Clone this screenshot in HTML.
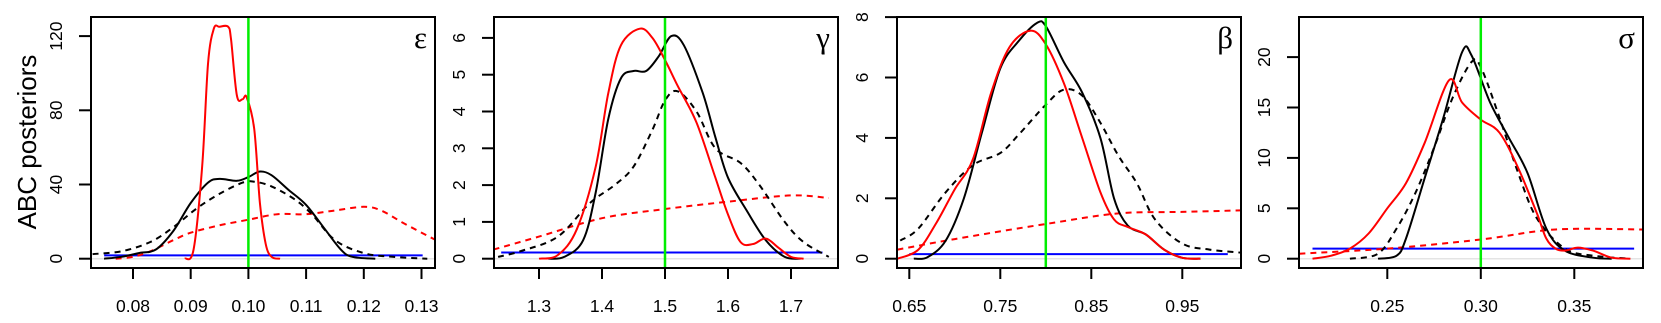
<!DOCTYPE html>
<html><head><meta charset="utf-8"><style>html,body{margin:0;padding:0;background:#fff}svg{display:block}</style></head>
<body>
<svg id="s" width="1661" height="323" xmlns="http://www.w3.org/2000/svg" font-family="Liberation Sans, sans-serif">
<text transform="translate(36,142) rotate(-90)" text-anchor="middle" font-size="26">ABC posteriors</text>
</svg>
<script>
var S=document.getElementById('s'),NS='http://www.w3.org/2000/svg';
function el(t,a,txt){var e=document.createElementNS(NS,t);for(var k in a)e.setAttribute(k,a[k]);if(txt!=null)e.textContent=txt;S.appendChild(e);return e;}
var P=[
{L:91,R:435,x0:0.08,px0:133,sx:5770,sy:74.2/40,yt:[0,40,80,120],xt:[0.08,0.09,0.10,0.11,0.12,0.13],xf:2,g:0.10,sym:'ε',
 blue:[0.075,0.1302,1.8],
 rs:[[0.089,0],[0.0905,5],[0.092,50],[0.093,105],[0.094,124],[0.095,125],[0.0965,125],[0.097,118],[0.098,88],[0.099,86],[0.0997,87],[0.101,70],[0.102,30],[0.103,8],[0.104,1],[0.1055,0]],
 bs:[[0.075,0],[0.078,1],[0.081,3],[0.084,5],[0.087,15],[0.09,30],[0.093,41],[0.095,43],[0.098,42],[0.1,44],[0.102,47],[0.104,45],[0.107,37],[0.11,29],[0.113,17],[0.116,5],[0.118,1],[0.122,0]],
 bd:[[0.073,2.5],[0.078,4],[0.083,9],[0.087,17],[0.091,27],[0.095,35],[0.099,41],[0.101,41.5],[0.104,39],[0.108,32],[0.111,24],[0.115,10],[0.12,3],[0.125,1],[0.131,0]],
 rd:[[0.077,0],[0.08,1],[0.083,4],[0.087,10],[0.09,14],[0.095,18],[0.1,21],[0.105,24],[0.11,24],[0.115,26],[0.12,28],[0.123,26],[0.127,19],[0.1325,10]]},
{L:494,R:838,x0:1.3,px0:539,sx:630,sy:36.8,yt:[0,1,2,3,4,5,6],xt:[1.3,1.4,1.5,1.6,1.7],xf:1,g:1.5,sym:'γ',
 blue:[1.24,1.75,0.17],
 rs:[[1.30,0],[1.33,0.1],[1.36,0.8],[1.39,2.5],[1.41,4.5],[1.43,5.8],[1.46,6.25],[1.48,6.0],[1.5,5.4],[1.52,4.7],[1.55,3.7],[1.58,2.2],[1.6,1.2],[1.62,0.45],[1.64,0.4],[1.66,0.55],[1.68,0.3],[1.7,0.05],[1.72,0]],
 bs:[[1.315,0],[1.34,0.05],[1.37,0.5],[1.39,1.8],[1.41,3.8],[1.43,4.9],[1.45,5.1],[1.47,5.1],[1.49,5.5],[1.51,6.05],[1.53,5.8],[1.56,4.5],[1.58,3.3],[1.6,2.2],[1.63,1.3],[1.66,0.5],[1.69,0.05],[1.715,0]],
 bd:[[1.235,0.05],[1.27,0.2],[1.33,0.6],[1.38,1.5],[1.42,2.0],[1.45,2.5],[1.48,3.5],[1.5,4.3],[1.52,4.55],[1.55,4.0],[1.58,3.0],[1.62,2.6],[1.65,2.0],[1.69,1.0],[1.72,0.45],[1.76,0.05]],
 rd:[[1.228,0.25],[1.3,0.6],[1.4,1.1],[1.5,1.35],[1.6,1.55],[1.7,1.72],[1.76,1.65]]},
{L:897,R:1241,x0:0.65,px0:909.3,sx:910,sy:30.2,yt:[0,2,4,6,8],xt:[0.65,0.75,0.85,0.95],xf:2,g:0.8,sym:'β',
 blue:[0.65,1.0,0.15],
 rs:[[0.637,0],[0.66,0.3],[0.68,1.2],[0.7,2.3],[0.72,3.3],[0.74,5.5],[0.76,7.0],[0.783,7.55],[0.8,7.1],[0.82,5.8],[0.84,4.0],[0.86,2.2],[0.875,1.3],[0.89,1.05],[0.91,0.8],[0.93,0.3],[0.95,0.03],[0.97,0]],
 bs:[[0.655,0],[0.67,0.05],[0.69,0.6],[0.71,2.0],[0.73,4.2],[0.75,6.3],[0.77,7.2],[0.79,7.8],[0.8,7.7],[0.82,6.5],[0.84,5.5],[0.86,4.0],[0.875,2.0],[0.89,1.1],[0.91,0.8],[0.93,0.3],[0.95,0.03],[0.97,0]],
 bd:[[0.64,0.6],[0.66,1.0],[0.69,2.2],[0.72,3.1],[0.75,3.5],[0.77,4.1],[0.8,5.1],[0.82,5.6],[0.84,5.4],[0.86,4.5],[0.88,3.4],[0.9,2.5],[0.92,1.3],[0.95,0.5],[0.98,0.3],[1.015,0.2]],
 rd:[[0.637,0.3],[0.7,0.65],[0.8,1.15],[0.88,1.5],[0.95,1.55],[1.015,1.6]]},
{L:1299,R:1643,x0:0.25,px0:1387.3,sx:1870,sy:50.4/5,yt:[0,5,10,15,20],xt:[0.25,0.30,0.35],xf:2,g:0.3,sym:'σ',
 blue:[0.21,0.382,1.0],
 rs:[[0.21,0],[0.22,0.3],[0.23,1.0],[0.24,2.5],[0.25,5],[0.26,7.5],[0.27,11.5],[0.283,17.7],[0.29,15.5],[0.3,13.8],[0.31,12.5],[0.32,9],[0.33,4.5],[0.335,2],[0.34,1],[0.345,0.8],[0.352,1.1],[0.36,0.8],[0.37,0.1],[0.38,0]],
 bs:[[0.245,0],[0.255,0.3],[0.26,2],[0.27,8],[0.28,14],[0.29,20.5],[0.295,20.2],[0.305,15.5],[0.315,12],[0.325,8.5],[0.335,3],[0.345,0.8],[0.36,0.1],[0.37,0]],
 bd:[[0.23,0],[0.245,0.5],[0.255,3],[0.265,6.5],[0.275,11],[0.285,16],[0.295,19.5],[0.3,19],[0.31,14],[0.32,8.5],[0.33,4],[0.345,1.0],[0.36,0.3],[0.38,0]],
 rd:[[0.203,0.5],[0.25,1.0],[0.3,1.9],[0.34,2.9],[0.387,2.9]]}
];
var T=17,B=268,Y0=258.7;
function path(p,pts){
 var q=pts.map(function(d){return [p.px0+(d[0]-p.x0)*p.sx, Y0-d[1]*p.sy];});
 var s='M'+q[0][0].toFixed(1)+','+q[0][1].toFixed(1);
 for(var i=0;i<q.length-1;i++){var a=q[i-1]||q[i],b=q[i],c=q[i+1],d=q[i+2]||c;
  s+=' C'+(b[0]+(c[0]-a[0])/6).toFixed(1)+','+(b[1]+(c[1]-a[1])/6).toFixed(1)+' '+(c[0]-(d[0]-b[0])/6).toFixed(1)+','+(c[1]-(d[1]-b[1])/6).toFixed(1)+' '+c[0].toFixed(1)+','+c[1].toFixed(1);}
 return s;}
P.forEach(function(p,i){
 var cp=el('clipPath',{id:'c'+i});var r=document.createElementNS(NS,'rect');r.setAttribute('x',p.L);r.setAttribute('y',T);r.setAttribute('width',p.R-p.L);r.setAttribute('height',B-T);cp.appendChild(r);
 var g=el('g',{'clip-path':'url(#c'+i+')'});
 function add(t,a){var e=document.createElementNS(NS,t);for(var k in a)e.setAttribute(k,a[k]);g.appendChild(e);}
 add('line',{x1:p.L,x2:p.R,y1:Y0,y2:Y0,stroke:'#e4e4e4','stroke-width':1.5});
 var bx=function(v){return p.px0+(v-p.x0)*p.sx;};
 add('line',{x1:bx(p.blue[0]),x2:bx(p.blue[1]),y1:Y0-p.blue[2]*p.sy,y2:Y0-p.blue[2]*p.sy,stroke:'#0000ff','stroke-width':2});
 add('path',{d:path(p,p.rd),fill:'none',stroke:'#ff0000','stroke-width':2,'stroke-dasharray':'6,5'});
 add('path',{d:path(p,p.bd),fill:'none',stroke:'#000','stroke-width':2,'stroke-dasharray':'6,5'});
 add('path',{d:path(p,p.bs),fill:'none',stroke:'#000','stroke-width':2});
 add('path',{d:path(p,p.rs),fill:'none',stroke:'#ff0000','stroke-width':2});
 add('line',{x1:bx(p.g),x2:bx(p.g),y1:T,y2:B,stroke:'#00ee00','stroke-width':2.5});
 el('rect',{x:p.L,y:T,width:p.R-p.L,height:B-T,fill:'none',stroke:'#000','stroke-width':2});
 el('text',{x:p.R-8,y:48,'text-anchor':'end','font-size':31,'font-family':'Liberation Serif, serif'},p.sym);
 p.yt.forEach(function(v){var y=Y0-v*p.sy;el('line',{x1:p.L-12,x2:p.L,y1:y,y2:y,stroke:'#000','stroke-width':2});
  el('text',{transform:'translate('+(p.L-35)+','+y+') rotate(-90)','text-anchor':'middle','dominant-baseline':'central','font-size':17.5},String(v));});
 p.xt.forEach(function(v){var x=bx(v);el('line',{x1:x,x2:x,y1:B,y2:B+11,stroke:'#000','stroke-width':2});
  el('text',{x:x,y:312,'text-anchor':'middle','font-size':17.5},v.toFixed(p.xf));});
});
</script>
</body></html>
